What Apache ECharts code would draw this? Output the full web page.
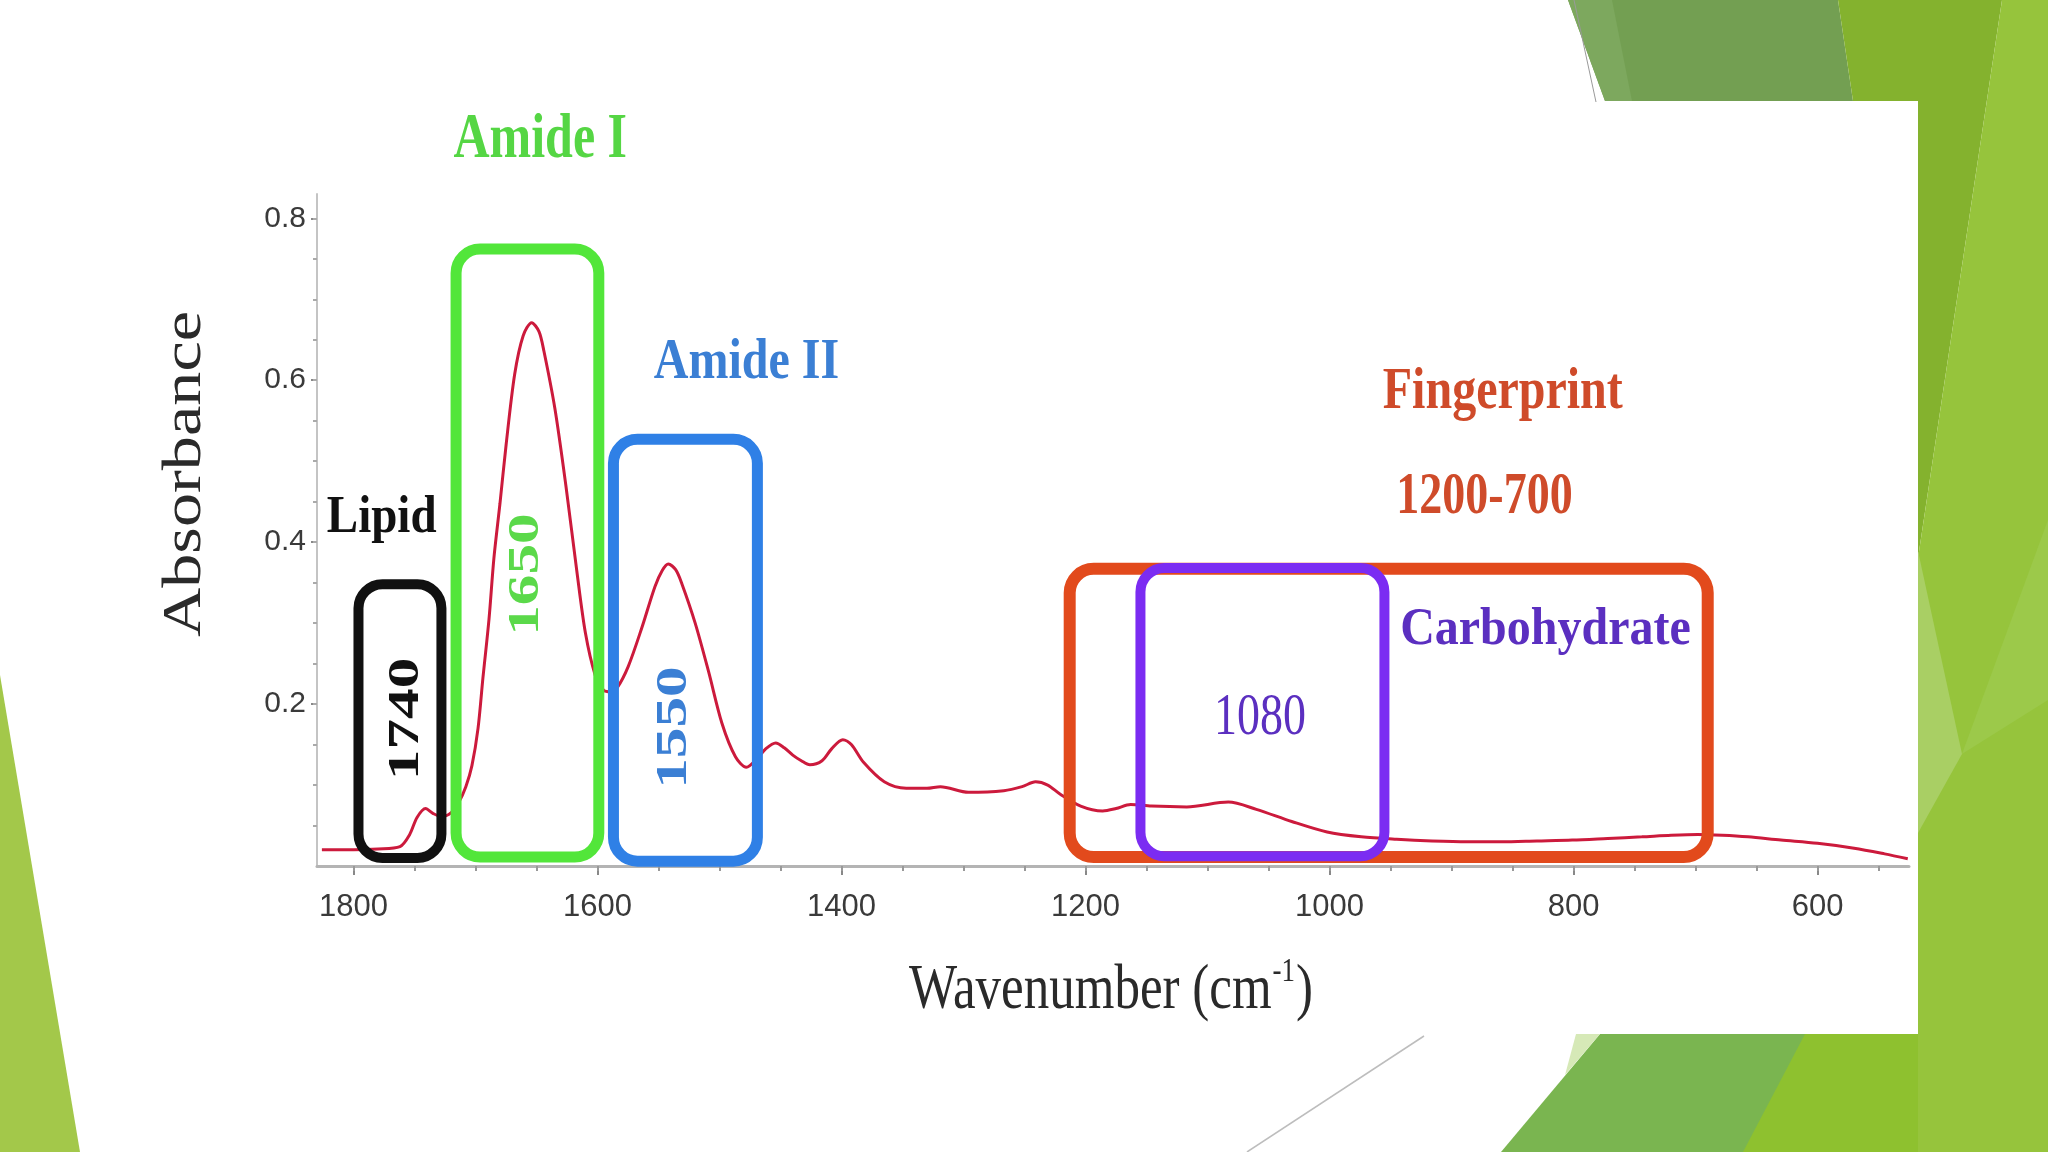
<!DOCTYPE html>
<html>
<head>
<meta charset="utf-8">
<title>FTIR spectrum</title>
<script src="https://cdn.jsdelivr.net/npm/echarts@6/dist/echarts.min.js"></script>
<style>
  html, body { margin: 0; padding: 0; background: #fff; }
  #chart { width: 2048px; height: 1152px; }
</style>
</head>
<body>
<div id="chart"></div>
<script>
// spectrum
const wavenumber = [1826, 1800, 1780, 1762, 1754, 1748, 1741, 1735, 1728, 1720, 1714, 1708, 1703, 1698, 1694,
  1689, 1685, 1680, 1675, 1668, 1661, 1654, 1648, 1644, 1635, 1626, 1617, 1610, 1602, 1595, 1589, 1584,
  1575, 1564, 1553, 1547, 1542, 1536, 1531, 1520, 1509, 1498, 1487, 1478, 1469, 1462, 1454, 1447, 1440,
  1433, 1426, 1416, 1408, 1399, 1392, 1382, 1365, 1347, 1330, 1319, 1296, 1267, 1252, 1241, 1231, 1221,
  1204, 1186, 1175, 1163, 1146, 1117, 1083, 1060, 1031, 1002, 974, 945, 916, 887, 859, 830, 801, 772,
  744, 720, 698, 678, 657, 630, 600, 570, 545, 526]
const absorbance = [0.020, 0.020, 0.021, 0.024, 0.039, 0.060, 0.071, 0.065, 0.061, 0.066, 0.078, 0.098, 0.124,
  0.170, 0.232, 0.305, 0.380, 0.448, 0.520, 0.607, 0.655, 0.671, 0.660, 0.636, 0.565, 0.470, 0.364, 0.288,
  0.236, 0.217, 0.215, 0.220, 0.246, 0.293, 0.345, 0.365, 0.373, 0.366, 0.349, 0.300, 0.240, 0.176, 0.135,
  0.122, 0.133, 0.145, 0.152, 0.146, 0.137, 0.130, 0.125, 0.130, 0.145, 0.156, 0.150, 0.128, 0.104, 0.096,
  0.096, 0.098, 0.091, 0.093, 0.098, 0.104, 0.100, 0.089, 0.074, 0.068, 0.071, 0.076, 0.074, 0.073, 0.079,
  0.070, 0.055, 0.042, 0.036, 0.033, 0.031, 0.030, 0.030, 0.031, 0.032, 0.034, 0.036, 0.038, 0.039, 0.038,
  0.036, 0.032, 0.028, 0.022, 0.015, 0.009]

const xTickLabels = [1800, 1600, 1400, 1200, 1000, 800, 600]
const xMinorTicks = [1800, 1750, 1700, 1650, 1600, 1550, 1500, 1450, 1400, 1350, 1300, 1250, 1200, 1150,
  1100, 1050, 1000, 950, 900, 850, 800, 750, 700, 650, 600, 550]
const yTickLabels = [0.2, 0.4, 0.6, 0.8]
const yMinorTicks = [0.05, 0.1, 0.15, 0.2, 0.25, 0.3, 0.35, 0.4, 0.45, 0.5, 0.55, 0.6, 0.65, 0.7, 0.75, 0.8]

// band boxes (wavenumber from/to, absorbance low/high)
const bandNames = ['Lipid', 'Amide I', 'Amide II', 'Fingerprint', 'Carbohydrate']
const bandFrom = [1796, 1716, 1587, 1213, 1155]
const bandTo = [1728, 1599, 1469, 690, 955]
const bandLow = [0.010, 0.011, 0.006, 0.011, 0.012]
const bandHigh = [0.348, 0.762, 0.527, 0.367, 0.368]

const bandStyle = [
  { color: '#111111', width: 10 },
  { color: '#52E63A', width: 11 },
  { color: '#2F80E6', width: 11 },
  { color: '#E24A1C', width: 12 },
  { color: '#7B2CF2', width: 10 }
]

const serif = '"Liberation Serif", "DejaVu Serif", serif'
const sans = '"Liberation Sans", Arial, sans-serif'

// annotation texts, anchored in data coordinates
const notes = [
  { t: 'Amide I', x: 1647, y: 0.896, c: '#55D644', fs: 50, fw: 'bold', s: 1.25 },
  { t: 'Amide II', x: 1478, y: 0.621, c: '#3B7FD4', fs: 48, fw: 'bold', s: 1.18 },
  { t: 'Lipid', x: 1777, y: 0.429, c: '#111111', fs: 47, fw: 'bold', s: 1.13 },
  { t: 'Fingerprint', x: 858, y: 0.584, c: '#CF4B2A', fs: 48, fw: 'bold', s: 1.23 },
  { t: '1200-700', x: 873, y: 0.455, c: '#CF4B2A', fs: 46, fw: 'bold', s: 1.27 },
  { t: 'Carbohydrate', x: 823, y: 0.2915, c: '#5B2FC0', fs: 48, fw: 'bold', s: 1.12 },
  { t: '1080', x: 1057, y: 0.1816, c: '#5B2FC0', fs: 46, fw: 'normal', s: 1.28 },
  { t: '1740', x: 1757, y: 0.1816, c: '#111111', fs: 45, fw: 'bold', s: 1.36, rot: true },
  { t: '1650', x: 1658, y: 0.36, c: '#5BD94A', fs: 45, fw: 'bold', s: 1.36, rot: true },
  { t: '1550', x: 1537, y: 0.171, c: '#3B7FD4', fs: 45, fw: 'bold', s: 1.36, rot: true }
]

// slide decoration (theme facets)
const facets = [
  { p: [[1568, 0], [1838, 0], [1853, 101], [1605, 101]], c: '#739F52' },
  { p: [[1568, 0], [1612, 0], [1632, 101], [1605, 101]], c: '#7DA85E' },
  { p: [[1838, 0], [2002, 0], [1918, 558], [1918, 101], [1853, 101]], c: '#84B22E' },
  { p: [[2002, 0], [2048, 0], [2048, 1152], [1918, 1152], [1918, 558]], c: '#96C43C' },
  { p: [[1918, 551], [1962, 754], [1918, 833]], c: '#A9CF64' },
  { p: [[1962, 754], [2048, 520], [2048, 700]], c: '#9CC94A' },
  { p: [[1600, 1034], [1918, 1034], [1918, 1152], [1501, 1152]], c: '#7AB550' },
  { p: [[1805, 1034], [1918, 1034], [1918, 1152], [1743, 1152]], c: '#8EC12F' },
  { p: [[1576, 1034], [1600, 1034], [1565, 1075]], c: '#D6E9B7' },
  { p: [[0, 675], [80, 1152], [0, 1152]], c: '#A3C84A' }
]

const chart = echarts.init(document.getElementById('chart'))

const option = {
  backgroundColor: '#ffffff',
  animation: false,
  grid: { left: 317, right: 139, top: 194, bottom: 286 },
  xAxis: [{
    type: 'value',
    min: 525,
    max: 1830,
    inverse: true,
    axisLine: { show: true, onZero: false, lineStyle: { color: '#b4b4b4', width: 3 } },
    axisTick: { show: true, customValues: xTickLabels, length: 9, lineStyle: { color: '#888', width: 2 } },
    axisLabel: {
      customValues: xTickLabels,
      margin: 26,
      color: '#3a3a3a',
      fontSize: 31,
      fontFamily: sans,
      formatter: v => String(v)
    },
    splitLine: { show: false }
  }, {
    type: 'value',
    gridIndex: 0,
    position: 'bottom',
    min: 525,
    max: 1830,
    inverse: true,
    axisLine: { show: false },
    axisTick: { show: true, customValues: xMinorTicks, length: 5, lineStyle: { color: '#999', width: 2 } },
    axisLabel: { show: false },
    splitLine: { show: false }
  }],
  yAxis: [{
    type: 'value',
    min: 0,
    max: 0.83,
    axisLine: { show: true, onZero: false, lineStyle: { color: '#c4c4c4', width: 2 } },
    axisTick: { show: true, customValues: yTickLabels, length: 6, lineStyle: { color: '#888', width: 2 } },
    axisLabel: {
      customValues: yTickLabels,
      margin: 11,
      color: '#3a3a3a',
      fontSize: 30,
      fontFamily: sans,
      formatter: v => v.toFixed(1)
    },
    splitLine: { show: false }
  }, {
    type: 'value',
    gridIndex: 0,
    position: 'left',
    min: 0,
    max: 0.83,
    axisLine: { show: false },
    axisTick: { show: true, customValues: yMinorTicks, length: 4, lineStyle: { color: '#aaa', width: 2 } },
    axisLabel: { show: false },
    splitLine: { show: false }
  }],
  series: [{
    type: 'line',
    xAxisIndex: 0,
    yAxisIndex: 0,
    data: wavenumber.map((w, i) => [w, absorbance[i]]),
    showSymbol: false,
    smooth: 0.3,
    lineStyle: { color: '#CC1A3C', width: 3 },
    z: 3
  }]
}

chart.setOption(option)

function px(w, a) {
  return chart.convertToPixel({ seriesIndex: 0 }, [w, a])
}

const graphics = []

facets.forEach(f => {
  graphics.push({ type: 'polygon', z: -5, silent: true, shape: { points: f.p }, style: { fill: f.c } })
})
graphics.push({ type: 'line', z: -4, silent: true, shape: { x1: 1574, y1: 0, x2: 1596, y2: 102 }, style: { stroke: '#9a9a9a', lineWidth: 1 } })
graphics.push({ type: 'line', z: -4, silent: true, shape: { x1: 1424, y1: 1036, x2: 1247, y2: 1152 }, style: { stroke: '#bdbdbd', lineWidth: 1.5 } })

bandNames.forEach((name, i) => {
  const p1 = px(bandFrom[i], bandHigh[i])
  const p2 = px(bandTo[i], bandLow[i])
  graphics.push({
    type: 'rect',
    name: name,
    z: 10,
    silent: true,
    shape: { x: p1[0], y: p1[1], width: p2[0] - p1[0], height: p2[1] - p1[1], r: 24 },
    style: { fill: 'none', stroke: bandStyle[i].color, lineWidth: bandStyle[i].width }
  })
})

notes.forEach(n => {
  const p = px(n.x, n.y)
  graphics.push({
    type: 'text',
    z: 12,
    silent: true,
    x: p[0],
    y: p[1],
    rotation: n.rot ? Math.PI / 2 : 0,
    scaleX: n.rot ? n.s : 1,
    scaleY: n.rot ? 1 : n.s,
    style: {
      text: n.t,
      fill: n.c,
      font: n.fw + ' ' + n.fs + 'px ' + serif,
      align: 'center',
      verticalAlign: 'middle'
    }
  })
})

// axis titles
graphics.push({
  type: 'text', z: 12, silent: true, x: 186, y: 474, rotation: Math.PI / 2, scaleX: 1.265,
  style: { text: 'Absorbance', fill: '#2a2a2a', font: 'normal 54px ' + serif, align: 'center', verticalAlign: 'middle' }
})
graphics.push({
  type: 'text', z: 12, silent: true, x: 1111, y: 988, scaleY: 1.25,
  style: {
    text: '{a|Wavenumber (cm}{s|-1}{a|)}',
    align: 'center',
    verticalAlign: 'middle',
    rich: {
      a: { fill: '#2a2a2a', font: 'normal 51px ' + serif, verticalAlign: 'bottom', lineHeight: 56 },
      s: { fill: '#2a2a2a', font: 'normal 27px ' + serif, verticalAlign: 'top', lineHeight: 56, padding: [2, 1, 0, 1] }
    }
  }
})

chart.setOption({ graphic: graphics })
</script>
</body>
</html>
